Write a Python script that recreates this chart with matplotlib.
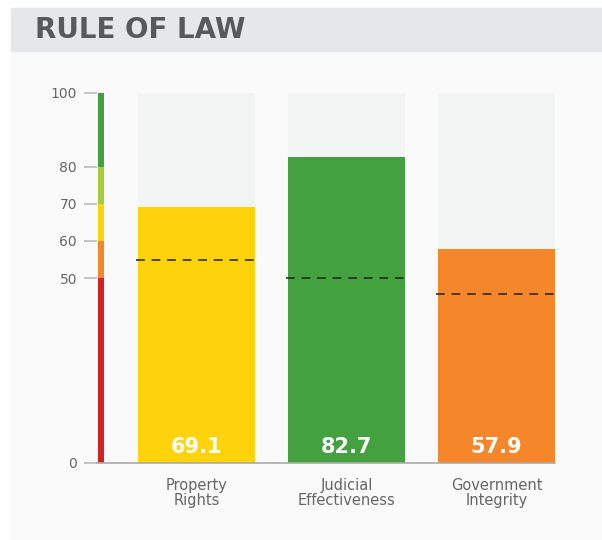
import matplotlib.pyplot as plt
from matplotlib.patches import Rectangle

# Data
categories = ['Property\nRights', 'Judicial\nEffectiveness', 'Government\nIntegrity']
scores = [69.1, 82.7, 57.9]
averages = [54.9, 50.0, 45.7]
yticks = [0, 50, 60, 70, 80, 100]

# grade bands (lower, upper, colour)
band_edges = [0, 50, 60, 70, 80, 100]
band_colors = ['#d52120', '#f5862a', '#fed30b', '#a5cd39', '#43a13f']


def score_color(v):
    for i in range(len(band_colors)):
        if band_edges[i] <= v < band_edges[i + 1]:
            return band_colors[i]
    return band_colors[-1]


W, H = 602, 540
fig = plt.figure(figsize=(W / 100, H / 100), dpi=100)
fig.patch.set_facecolor('white')

# panel background and header band
fig.patches.append(Rectangle((11 / W, 0), 591 / W, (H - 51) / H,
                             transform=fig.transFigure, color='#fafafa', zorder=-2))
fig.patches.append(Rectangle((11 / W, (H - 51) / H), 591 / W, 43 / H,
                             transform=fig.transFigure, color='#e6e7e8', zorder=-2))
fig.text(35 / W, (H - 30) / H, 'RULE OF LAW', fontsize=20, fontweight='bold',
         family='DejaVu Sans', color='#58595b', va='center', ha='left')

# axes placed so y 0..100 maps to pixel rows 463..93
ax = fig.add_axes([97 / W, (H - 463) / H, 458 / W, 370 / H])
ax.set_facecolor('none')

x = range(len(categories))
bar_w = 0.78
ax.bar(x, [100] * len(scores), width=bar_w, color='#f3f4f4', zorder=1)
ax.bar(x, scores, width=bar_w, color=[score_color(v) for v in scores], zorder=2)

for i, (v, a) in enumerate(zip(scores, averages)):
    ax.text(i, 2.7, f'{v:.1f}', ha='center', va='baseline', color='white',
            fontsize=15, fontweight='bold', family='DejaVu Sans', zorder=4)
    ax.hlines(a, i - bar_w / 2 - 0.01, i + bar_w / 2 + 0.01, colors='#222222',
              linestyles=(0, (4.5, 3.5)), linewidth=1.4, alpha=0.8, zorder=3)

# colour scale strip on the y axis
strip_x = -0.6367
for lo, hi, c in zip(band_edges[:-1], band_edges[1:], band_colors):
    ax.bar(strip_x, hi - lo, bottom=lo, width=0.04, color=c, zorder=2)

ax.set_xlim(-0.6633, 2.39)
ax.set_ylim(0, 100)
ax.set_yticks(yticks)
ax.set_yticklabels([str(t) for t in yticks], fontsize=10, color='#666666')
ax.tick_params(axis='y', length=9.4, width=1.2, color='#bbbbbb', pad=5)
ax.set_xticks(list(x))
ax.set_xticklabels(categories, fontsize=10.5, color='#666666', linespacing=1.0)
ax.tick_params(axis='x', length=0, pad=11)

for s in ['top', 'right', 'left']:
    ax.spines[s].set_visible(False)
ax.spines['bottom'].set_color('#aaaaaa')
ax.spines['bottom'].set_linewidth(1.2)
ax.spines['bottom'].set_zorder(5)

fig.savefig('out.png', dpi=100)
